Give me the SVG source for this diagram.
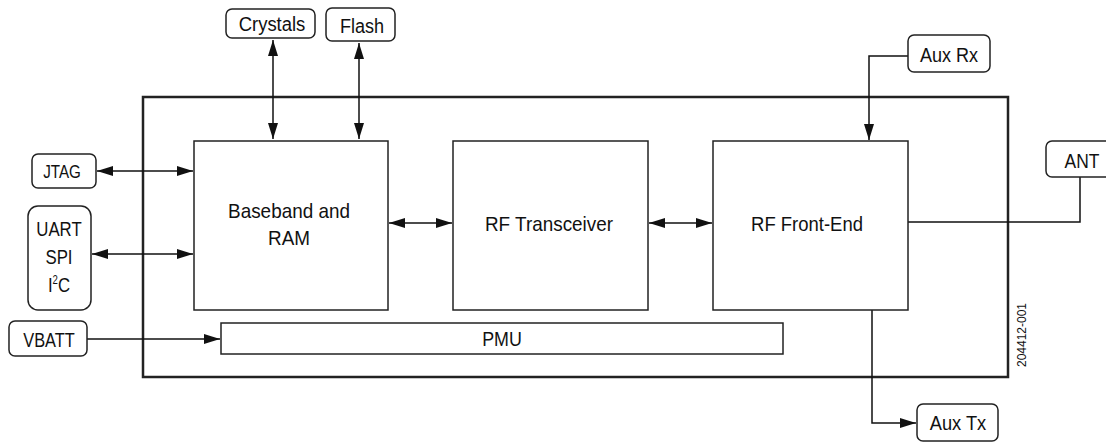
<svg xmlns="http://www.w3.org/2000/svg" width="1106" height="443" viewBox="0 0 1106 443">
<style>
.blk{fill:#fff;stroke:#222;stroke-width:1.5}
.ext{fill:#fff;stroke:#222;stroke-width:1.5}
.outer{fill:none;stroke:#222;stroke-width:2.5}
.t{font-family:"Liberation Sans",Arial,sans-serif;font-size:21px;fill:#111;text-anchor:middle}
.c{fill:none;stroke:#111;stroke-width:1.5}
</style>
<defs>
<marker id="ah" markerUnits="userSpaceOnUse" markerWidth="16" markerHeight="10" refX="16" refY="5" orient="auto-start-reverse" viewBox="0 0 16 10">
<path d="M0,0 L16,5 L0,10 z" fill="#111"/>
</marker>
</defs>
<rect class="outer" x="143" y="97" width="865" height="280"/>
<g id="connectors">
<line class="c" x1="273" y1="40" x2="273" y2="139" marker-start="url(#ah)" marker-end="url(#ah)"/>
<line class="c" x1="359" y1="43" x2="359" y2="139" marker-start="url(#ah)" marker-end="url(#ah)"/>
<line class="c" x1="97" y1="171" x2="193" y2="171" marker-start="url(#ah)" marker-end="url(#ah)"/>
<line class="c" x1="92" y1="254" x2="193" y2="254" marker-start="url(#ah)" marker-end="url(#ah)"/>
<line class="c" x1="87" y1="339" x2="220" y2="339" marker-end="url(#ah)"/>
<line class="c" x1="389" y1="223" x2="452" y2="223" marker-start="url(#ah)" marker-end="url(#ah)"/>
<line class="c" x1="649" y1="223" x2="712" y2="223" marker-start="url(#ah)" marker-end="url(#ah)"/>
<polyline class="c" points="908,56 869,56 869,140" marker-end="url(#ah)"/>
<polyline class="c" points="908,222 1080,222 1080,177"/>
<polyline class="c" points="872,310 872,423 916,423" marker-end="url(#ah)"/>
</g>
<g id="baseband">
<rect class="blk" x="194" y="141" width="194" height="169"/>
<text class="t" transform="translate(289 218) scale(0.9 1)">Baseband and</text>
<text class="t" transform="translate(289 245) scale(0.9 1)">RAM</text>
</g>
<g id="transceiver">
<rect class="blk" x="453" y="141" width="195" height="169"/>
<text class="t" transform="translate(549 231) scale(0.9 1)">RF Transceiver</text>
</g>
<g id="frontend">
<rect class="blk" x="713" y="141" width="195" height="169"/>
<text class="t" transform="translate(807 231) scale(0.88 1)">RF Front-End</text>
</g>
<g id="pmu">
<rect class="blk" x="221" y="323" width="562" height="31"/>
<text class="t" transform="translate(502 346) scale(0.85 1)">PMU</text>
</g>
<g id="crystals">
<rect class="ext" x="226" y="9" width="89" height="29" rx="6"/>
<text class="t" transform="translate(272 31) scale(0.88 1)">Crystals</text>
</g>
<g id="flash">
<rect class="ext" x="326" y="8" width="69" height="33" rx="6"/>
<text class="t" transform="translate(362 33) scale(0.86 1)">Flash</text>
</g>
<g id="jtag">
<rect class="ext" x="32" y="154" width="64" height="34" rx="6"/>
<text class="t" transform="translate(62 178) scale(0.8 1)" style="font-size:19px">JTAG</text>
</g>
<g id="uart">
<rect class="ext" x="28" y="206" width="63" height="104" rx="10"/>
<text class="t" transform="translate(59 236) scale(0.8 1)">UART</text>
<text class="t" transform="translate(59 264) scale(0.8 1)">SPI</text>
<text class="t" transform="translate(59 292) scale(0.8 1)">I<tspan font-size="12" dy="-8">2</tspan><tspan dy="8">C</tspan></text>
</g>
<g id="vbatt">
<rect class="ext" x="9" y="321" width="78" height="35" rx="6"/>
<text class="t" transform="translate(49 347) scale(0.78 1)">VBATT</text>
</g>
<g id="auxrx">
<rect class="ext" x="908" y="35" width="82" height="37" rx="6"/>
<text class="t" transform="translate(949 62) scale(0.86 1)">Aux Rx</text>
</g>
<g id="ant">
<rect class="ext" x="1046" y="141" width="70" height="36" rx="6"/>
<text class="t" transform="translate(1082 168) scale(0.83 1)">ANT</text>
</g>
<g id="auxtx">
<rect class="ext" x="917" y="404" width="81" height="37" rx="6"/>
<text class="t" transform="translate(958 430) scale(0.87 1)">Aux Tx</text>
</g>
<text x="1026" y="335" transform="rotate(-90 1026 335)" style="font-family:'Liberation Sans',Arial,sans-serif;font-size:12px;fill:#111;text-anchor:middle">204412-001</text>
</svg>
